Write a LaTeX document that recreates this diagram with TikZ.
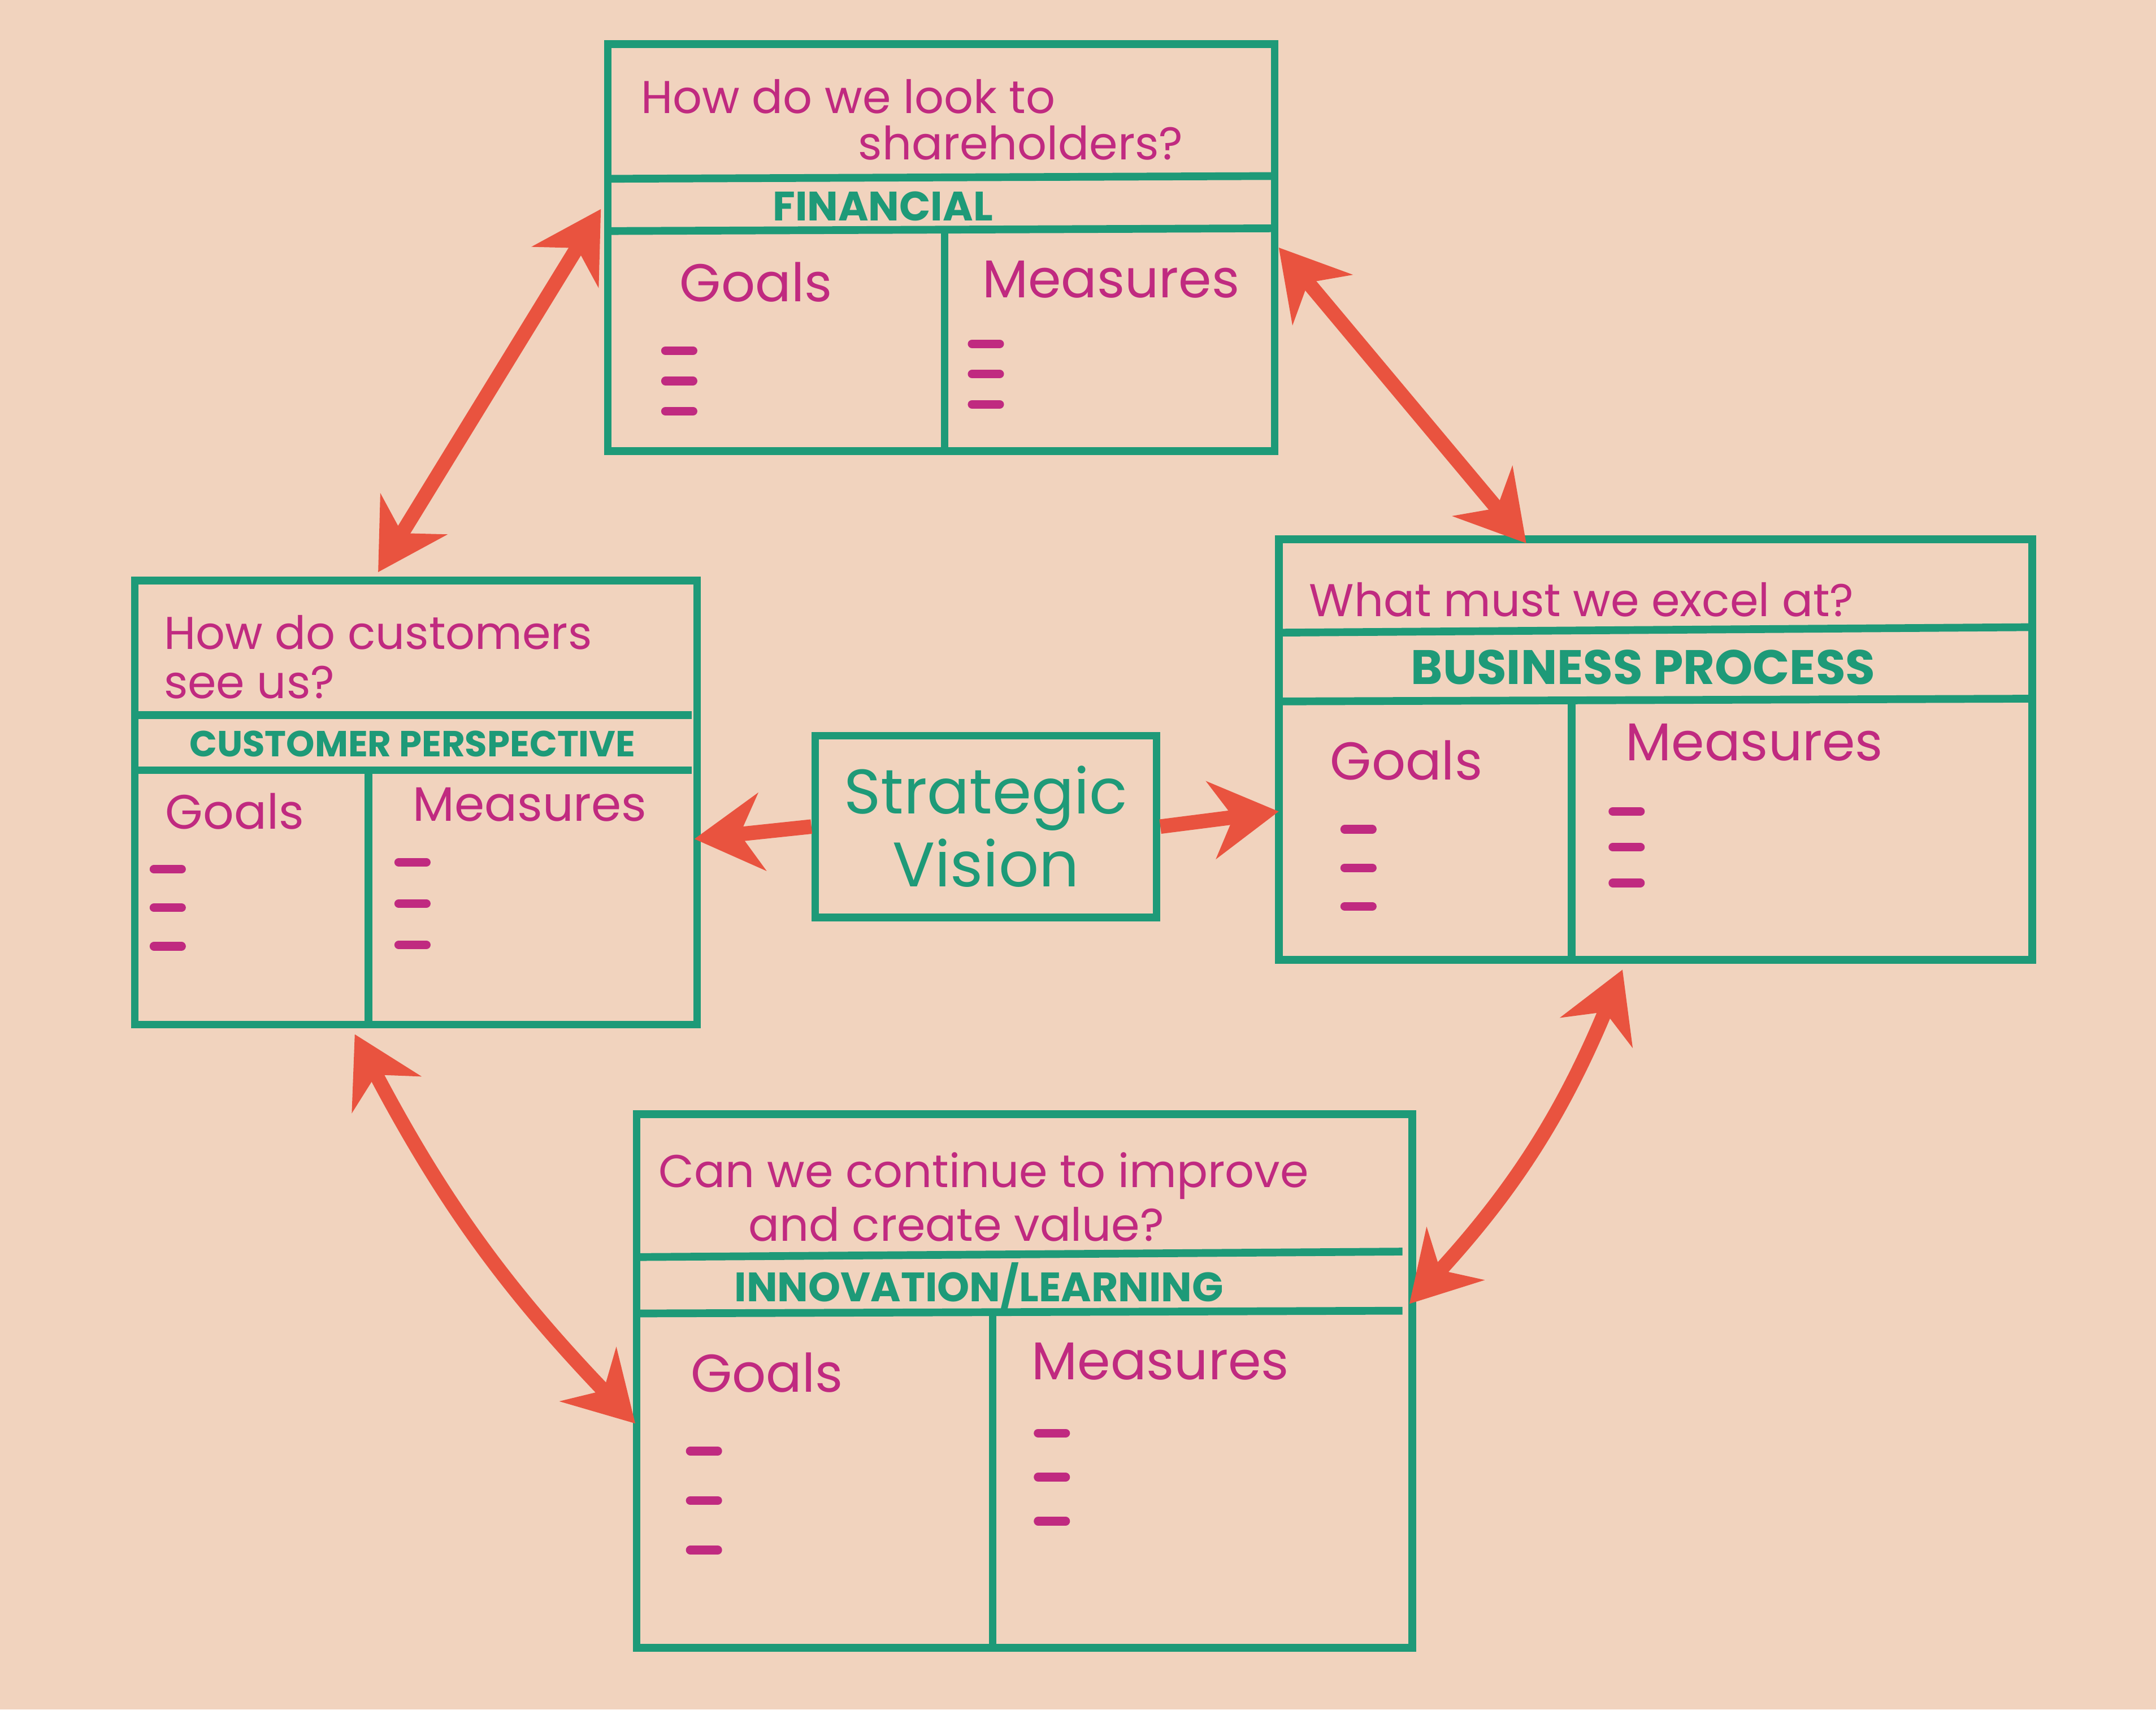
\documentclass[tikz,border=0pt]{standalone}
\usepackage{fontspec}
\setmainfont{Poppins}
\usetikzlibrary{arrows.meta}
\definecolor{bg}{HTML}{F1D3BE}
\definecolor{grn}{HTML}{1E9A78}
\definecolor{mag}{HTML}{C02A80}
\definecolor{red}{HTML}{E9533F}
\tikzset{
 box/.style={draw=grn,line width=1.6pt},
 q/.style={text=mag,font=\fontsize{9.5}{10}\selectfont,align=left,inner sep=1pt},
 lab/.style={text=grn,font=\fontsize{8.5}{9}\selectfont\bfseries},
 gm/.style={text=mag,font=\fontsize{11}{12}\selectfont},
 dd/.style={mag,line width=1.8pt,line cap=round},
 arr/.style={red,line width=3pt,{Stealth[length=14pt,width=16pt]}-{Stealth[length=14pt,width=16pt]}},
 sarr/.style={red,line width=3pt,-{Stealth[length=14pt,width=16pt]}}
}
\newcommand{\dashes}[3]{\foreach \k in {0,1,2} \draw[dd] (#1,#2+\k*#3) -- ++(20,0);}
\begin{document}
\begin{tikzpicture}[x=0.01cm,y=-0.01cm]
\fill[bg] (0,0) rectangle (1568,1243);
\useasboundingbox (0,0) rectangle (1568,1243);
% Financial
\draw[box] (442,32) rectangle (927,328);
\draw[box] (442,130) -- (927,128);
\draw[box] (442,168) -- (927,166);
\draw[box] (687,168) -- (687,328);
\node[q,anchor=west] (fq1) at (462,70) {How do we look to};
\node[q,anchor=west] (fq2) at (620,104) {shareholders?};
\node[lab] (fl) at (642,150) {FINANCIAL};
\node[gm,anchor=west] (fg) at (482,205) {Goals};
\node[gm,anchor=west] (fm) at (702,203) {Measures};
\dashes{484}{255}{22}
\dashes{707}{250}{22}
% Customer
\draw[box] (98,422) rectangle (507,745);
\draw[box] (98,520) -- (503,520);
\draw[box] (98,560) -- (503,560);
\draw[box] (268,560) -- (268,745);
\node[q,anchor=west] (cq1) at (115,460) {How do customers};
\node[q,anchor=west] (cq2) at (115,496) {see us?};
\node[lab,font=\fontsize{7.5}{8}\selectfont\bfseries] (cl) at (300,541) {CUSTOMER PERSPECTIVE};
\node[gm,anchor=west,font=\fontsize{10}{11}\selectfont] (cg) at (108,590) {Goals};
\node[gm,anchor=west,font=\fontsize{10}{11}\selectfont] (cm) at (288,585) {Measures};
\dashes{112}{632}{28}
\dashes{290}{627}{30}
% Business
\draw[box] (930,392) rectangle (1478,698);
\draw[box] (930,460) -- (1478,456);
\draw[box] (930,510) -- (1478,508);
\draw[box] (1143,510) -- (1143,698);
\node[q,anchor=west] (bq) at (948,436) {What must we excel at?};
\node[lab,font=\fontsize{10}{11}\selectfont\bfseries] (bl) at (1195,485) {BUSINESS PROCESS};
\node[gm,anchor=west] (bg) at (955,553) {Goals};
\node[gm,anchor=west] (bm) at (1170,540) {Measures};
\dashes{978}{603}{28}
\dashes{1173}{590}{26}
% Innovation
\draw[box] (463,810) rectangle (1027,1198);
\draw[box] (463,914) -- (1020,910);
\draw[box] (463,955) -- (1020,953);
\draw[box] (722,955) -- (722,1198);
\node[q,anchor=west] (iq1) at (475,855) {Can we continue to improve};
\node[q,anchor=west] (iq2) at (540,890) {and create value?};
\node[lab] (il) at (712,935) {INNOVATION/LEARNING};
\node[gm,anchor=west] (ig) at (490,998) {Goals};
\node[gm,anchor=west] (im) at (738,990) {Measures};
\dashes{502}{1055}{36}
\dashes{755}{1042}{32}
% Strategic vision
\node[box,minimum width=2.48cm,minimum height=1.32cm,text=grn,font=\fontsize{13}{15}\selectfont,align=center] (sv) at (717,601) {Strategic\\Vision};
% arrows
\coordinate (a1) at (437,152); \coordinate (a2) at (275,416);
\coordinate (b1) at (930,180); \coordinate (b2) at (1110,395);
\coordinate (c1) at (1180,705); \coordinate (c2) at (1025,948);
\coordinate (d1) at (258,752); \coordinate (d2) at (462,1035);
\coordinate (e) at (505,610); \coordinate (f) at (930,590);
\draw[arr] (a1) -- (a2);
\draw[arr] (b1) -- (b2);
\draw[arr] (c1) to[bend left=10] (c2);
\draw[arr] (d1) to[bend right=8] (d2);
\draw[sarr] (sv.west) -- (e);
\draw[sarr] (sv.east) -- (f);
\end{tikzpicture}
\end{document}
